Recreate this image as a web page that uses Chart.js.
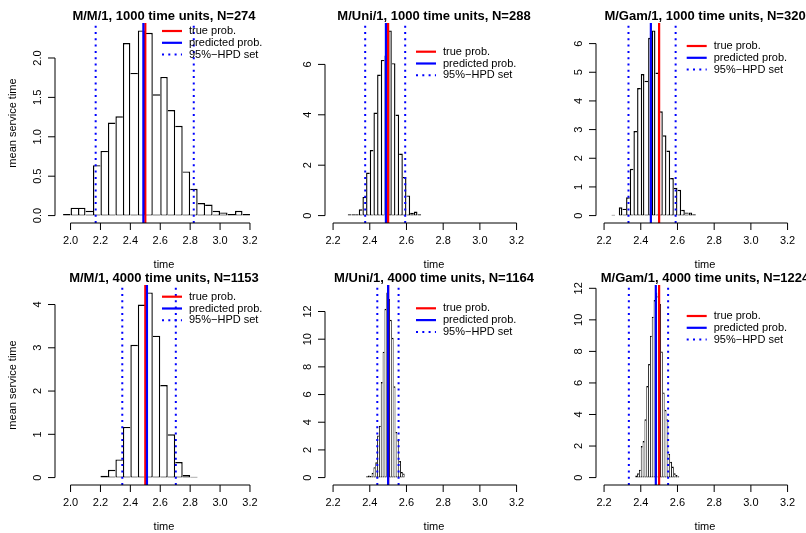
<!DOCTYPE html>
<html>
<head>
<meta charset="utf-8">
<script src="https://cdn.jsdelivr.net/npm/chart.js@4.4.1/dist/chart.umd.min.js"></script>
<style>
  html, body { margin: 0; padding: 0; background: #fff; }
  #figure { position: relative; width: 806px; height: 533px; overflow: hidden; background: #fff; }
  #figure canvas { position: absolute; }
</style>
</head>
<body>
<div id="figure"></div>
<script>
// panel titles (row by row)
const titles = [
  'M/M/1, 1000 time units, N=274',
  'M/Uni/1, 1000 time units, N=288',
  'M/Gam/1, 1000 time units, N=320',
  'M/M/1, 4000 time units, N=1153',
  'M/Uni/1, 4000 time units, N=1164',
  'M/Gam/1, 4000 time units, N=1224'
];

// histogram densities, one value per bin
const densMM1_1000 = [0.02, 0.10, 0.10, 0.06, 0.64, 0.82, 1.18, 1.26, 2.19, 1.81, 2.35, 2.32, 1.54,
                      1.76, 1.34, 1.14, 0.56, 0.34, 0.16, 0.14, 0.06, 0.04, 0.02, 0.06, 0.02];
const densMUni1_1000 = [0.05, 0.05, 0.05, 0.25, 0.74, 1.71, 2.60, 4.09, 5.60, 6.18, 6.35, 7.35, 6.05,
                        4.01, 2.46, 1.53, 0.80, 0.11, 0.16, 0.05];
const densMGam1_1000 = [0.03, 0, 0.29, 0.24, 0.64, 1.63, 2.95, 4.45, 4.94, 4.70, 6.20, 6.46, 4.99,
                        3.64, 2.80, 2.27, 1.31, 0.97, 0.90, 0.20, 0.11, 0.11, 0.05];
const densMM1_4000 = [0.04, 0.18, 0.42, 1.17, 3.07, 4.00, 4.28, 3.28, 2.14, 1.00, 0.36, 0.06, 0.02];
const densMUni1_4000 = [0.10, 0.15, 0.12, 0.35, 0.75, 1.10, 3.05, 3.75, 6.90, 9.10, 12.20, 13.38, 12.90,
                        11.40, 10.10, 6.60, 3.30, 2.70, 1.20, 0.40, 0.30];
const densMGam1_4000 = [0.13, 0.27, 0.50, 2.00, 2.32, 3.70, 5.80, 7.20, 9.00, 10.20, 11.26, 11.74, 11.50,
                        11.00, 8.00, 5.40, 4.30, 3.70, 1.50, 1.00, 0.70, 0.27, 0.17, 0.08];
const densities = [densMM1_1000, densMUni1_1000, densMGam1_1000, densMM1_4000, densMUni1_4000, densMGam1_4000];

// first break and bin width of each histogram
const binStart = [1.95, 2.28, 2.24, 2.20, 2.38, 2.37];
const binWidth = [0.05, 0.02, 0.02, 0.05, 0.01, 0.01];

// vertical reference lines
const trueProb = [2.5, 2.5, 2.5, 2.5, 2.5, 2.5];
const predProb = [2.487, 2.488, 2.455, 2.511, 2.500, 2.482];
const hpdLower = [2.168, 2.375, 2.333, 2.346, 2.441, 2.335];
const hpdUpper = [2.824, 2.593, 2.590, 2.704, 2.557, 2.549];

// x limits (before the usual 4% extension)
const xlimLow = [1.95, 2.2, 2.2, 1.95, 2.2, 2.2];
const xlimHigh = [3.3, 3.3, 3.3, 3.3, 3.3, 3.3];

// tick values
const xTicksWide = [2.0, 2.2, 2.4, 2.6, 2.8, 3.0, 3.2];
const xTicksNarrow = [2.2, 2.4, 2.6, 2.8, 3.0, 3.2];
const xTicks = [xTicksWide, xTicksNarrow, xTicksNarrow, xTicksWide, xTicksNarrow, xTicksNarrow];
const yTicks = [
  [0, 0.5, 1.0, 1.5, 2.0],
  [0, 2, 4, 6],
  [0, 1, 2, 3, 4, 5, 6],
  [0, 1, 2, 3, 4],
  [0, 2, 4, 6, 8, 10, 12],
  [0, 2, 4, 6, 8, 10, 12]
];
const yLabels = ['mean service time', '', '', 'mean service time', '', ''];
const xLabel = 'time';
const legendLabels = ['true prob.', 'predicted prob.', '95%\u2212HPD set'];

const FONT = '"Liberation Sans", Arial, Helvetica, sans-serif';
const RED = '#ff0000';
const BLUE = '#0000ff';
const DOTS = [2, 4.3];
const EDGE = 1.4;

// canvas placement and legend anchor of each panel
const canvasPos = [[0, 0], [270, 0], [541, 0], [0, 262], [270, 262], [541, 262]];
const legendAt = [[162, 31], [146, 51.7], [145.7, 46], [162, 34.7], [146, 46.3], [145.7, 54]];

function decimals(ticks) {
  return ticks.some(t => !Number.isInteger(Math.round(t * 1000) / 1000)) ? 1 : 0;
}

// base-graphics style axes, titles and legend
const rStyle = {
  id: 'rStyle',
  afterDatasetsDraw(chart, args, opts) {
    const ctx = chart.ctx;
    const xs = chart.scales.x, ys = chart.scales.y, area = chart.chartArea;
    ctx.save();
    ctx.strokeStyle = '#000';
    ctx.fillStyle = '#000';
    ctx.lineWidth = 1;
    ctx.setLineDash([]);

    // x axis
    const xd = decimals(opts.xTicks);
    const ax = area.bottom;
    ctx.beginPath();
    ctx.moveTo(xs.getPixelForValue(opts.xTicks[0]), ax);
    ctx.lineTo(xs.getPixelForValue(opts.xTicks[opts.xTicks.length - 1]), ax);
    opts.xTicks.forEach(t => {
      const px = xs.getPixelForValue(t);
      ctx.moveTo(px, ax);
      ctx.lineTo(px, ax + 7);
    });
    ctx.stroke();
    ctx.font = '11px ' + FONT;
    ctx.textAlign = 'center';
    ctx.textBaseline = 'middle';
    opts.xTicks.forEach(t => ctx.fillText(t.toFixed(xd), xs.getPixelForValue(t), ax + 18));

    // y axis
    const yd = decimals(opts.yTicks);
    const ay = area.left;
    ctx.beginPath();
    ctx.moveTo(ay, ys.getPixelForValue(opts.yTicks[0]));
    ctx.lineTo(ay, ys.getPixelForValue(opts.yTicks[opts.yTicks.length - 1]));
    opts.yTicks.forEach(t => {
      const py = ys.getPixelForValue(t);
      ctx.moveTo(ay, py);
      ctx.lineTo(ay - 7, py);
    });
    ctx.stroke();
    opts.yTicks.forEach(t => {
      ctx.save();
      ctx.translate(ay - 17.5, ys.getPixelForValue(t));
      ctx.rotate(-Math.PI / 2);
      ctx.fillText(t.toFixed(yd), 0, 0);
      ctx.restore();
    });

    // axis titles
    const cx = (area.left + area.right) / 2;
    ctx.fillText(opts.xLabel, cx, ax + 41.5);
    if (opts.yLabel) {
      ctx.save();
      ctx.translate(ay - 42, (area.top + area.bottom) / 2);
      ctx.rotate(-Math.PI / 2);
      ctx.fillText(opts.yLabel, 0, 0);
      ctx.restore();
    }

    // main title
    ctx.font = 'bold 13px ' + FONT;
    ctx.fillText(opts.title, cx, area.top - 6.5);

    // legend without box
    ctx.font = '11px ' + FONT;
    ctx.textAlign = 'left';
    const [lx, ly] = opts.legendAt;
    const styles = [[RED, [], 2.2], [BLUE, [], 2.2], [BLUE, DOTS, 2]];
    opts.legendLabels.forEach((lab, i) => {
      const y = ly + i * 11.8;
      ctx.beginPath();
      ctx.strokeStyle = styles[i][0];
      ctx.lineWidth = styles[i][2];
      ctx.setLineDash(styles[i][1]);
      ctx.moveTo(lx, y);
      ctx.lineTo(lx + 20, y);
      ctx.stroke();
      ctx.fillText(lab, lx + 27, y);
    });
    ctx.restore();
  }
};

function vline(v, yLo, yHi, color, dash, width, order) {
  return {
    type: 'line',
    data: [{x: v, y: yLo}, {x: v, y: yHi}],
    borderColor: color,
    borderWidth: width,
    borderDash: dash,
    borderCapStyle: 'butt',
    pointRadius: 0,
    fill: false,
    order: order
  };
}

// each shared edge is drawn once, by the taller of the two neighbouring bars
function edgeWidths(dens) {
  const last = dens.length - 1;
  return c => {
    const i = c.dataIndex;
    return {
      top: EDGE,
      bottom: 1,
      left: (i === 0 || dens[i - 1] <= dens[i]) ? EDGE : 0,
      right: (i === last || dens[i + 1] < dens[i]) ? EDGE : 0
    };
  };
}

const figure = document.getElementById('figure');

densities.forEach((dens, p) => {
  const canvas = document.createElement('canvas');
  canvas.width = 280;
  canvas.height = 271;
  canvas.style.left = canvasPos[p][0] + 'px';
  canvas.style.top = canvasPos[p][1] + 'px';
  figure.appendChild(canvas);

  const w = binWidth[p];
  const points = dens.map((d, i) => ({x: binStart[p] + (i + 0.5) * w, y: d}));
  const yMax = Math.max(...dens);
  const yLo = -0.04 * yMax, yHi = 1.04 * yMax;
  const span = xlimHigh[p] - xlimLow[p];

  new Chart(canvas, {
    type: 'bar',
    data: {
      datasets: [
        {
          type: 'bar',
          data: points,
          backgroundColor: '#ffffff',
          borderColor: '#000000',
          borderWidth: edgeWidths(dens),
          borderSkipped: false,
          barPercentage: 1,
          categoryPercentage: 1,
          inflateAmount: 0,
          order: 10
        },
        vline(trueProb[p], yLo, yHi, RED, [], 2.2, 4),
        vline(predProb[p], yLo, yHi, BLUE, [], 2.2, 3),
        vline(hpdLower[p], yLo, yHi, BLUE, DOTS, 2, 2),
        vline(hpdUpper[p], yLo, yHi, BLUE, DOTS, 2, 1)
      ]
    },
    options: {
      responsive: false,
      animation: false,
      events: [],
      devicePixelRatio: 1,
      layout: {padding: {left: 55, right: 7, top: 23, bottom: 48}},
      scales: {
        x: {type: 'linear', display: false, offset: false,
            min: xlimLow[p] - 0.04 * span, max: xlimHigh[p] + 0.04 * span},
        y: {type: 'linear', display: false, min: yLo, max: yHi}
      },
      plugins: {
        legend: {display: false},
        tooltip: {enabled: false},
        rStyle: {
          title: titles[p],
          xTicks: xTicks[p],
          yTicks: yTicks[p],
          xLabel: xLabel,
          yLabel: yLabels[p],
          legendLabels: legendLabels,
          legendAt: legendAt[p]
        }
      }
    },
    plugins: [rStyle]
  });
});
</script>
</body>
</html>
